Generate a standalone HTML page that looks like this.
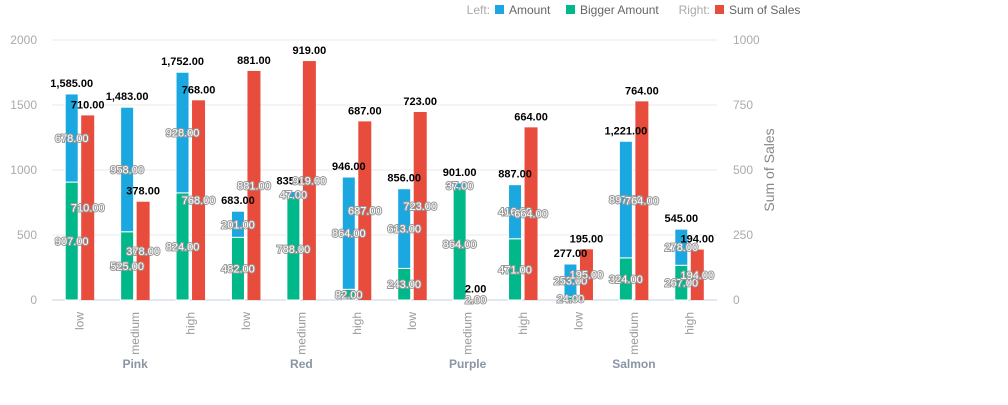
<!DOCTYPE html>
<html><head><meta charset="utf-8"><style>
body{margin:0;background:#fff;font-family:"Liberation Sans",sans-serif}
svg text{font-family:"Liberation Sans",sans-serif}
.in{fill:#fff;stroke:#999;stroke-width:2;paint-order:stroke;font-size:11px;text-anchor:middle}
.top{fill:#000;font-weight:bold;font-size:11px;text-anchor:middle}
</style></head><body>
<svg id="c" width="1008" height="400">
<g font-size="12">
<text x="490" y="14" fill="#aaa" text-anchor="end">Left:</text>
<rect x="495" y="5" width="9" height="9" fill="#1ba8e0"/>
<text x="509" y="14" fill="#666">Amount</text>
<rect x="566" y="5" width="9" height="9" fill="#00b88a"/>
<text x="580" y="14" fill="#666">Bigger Amount</text>
<text x="710" y="14" fill="#aaa" text-anchor="end">Right:</text>
<rect x="715" y="5" width="9" height="9" fill="#e84c3d"/>
<text x="729" y="14" fill="#666">Sum of Sales</text>
</g>
<text transform="translate(774,170) rotate(-90)" text-anchor="middle" fill="#888" font-size="14">Sum of Sales</text>
</svg>
<script>
const groups=["Pink","Red","Purple","Salmon"];
const levels=["low","medium","high"];
const bigger=[907,525,824,482,788,82,243,864,471,24,324,267];
const amount=[678,958,928,201,47,864,613,37,416,253,897,278];
const sales=[710,378,768,881,919,687,723,2,664,195,764,194];
const leftTicks=[0,500,1000,1500,2000];
const rightTicks=[0,250,500,750,1000];
const svg=document.getElementById('c');const NS='http://www.w3.org/2000/svg';
const X0=52,X1=717,Y0=300,Y1=40,n=12,cw=(X1-X0)/n;
const yL=v=>Y0-v/2000*(Y0-Y1), yR=v=>Y0-v/1000*(Y0-Y1);
const f=v=>v.toLocaleString('en-US',{minimumFractionDigits:2,maximumFractionDigits:2});
function el(t,a,txt){const e=document.createElementNS(NS,t);for(const k in a)e.setAttribute(k,a[k]);if(txt!=null)e.textContent=txt;svg.appendChild(e);return e;}
leftTicks.forEach((t,i)=>{
 let g=el('line',{x1:X0,x2:X1,y1:yL(t),y2:yL(t),stroke:i?'#e8e8e8':'#c5d0e0'});
 
 
 let a=el('text',{x:37,y:yL(t)+4,'text-anchor':'end',fill:'#aaa','font-size':12},t);
 
 
 let b=el('text',{x:733,y:yR(rightTicks[i])+4,fill:'#aaa','font-size':12},rightTicks[i]);
 
 
});
const inl=[];
for(let i=0;i<n;i++){
 const cx=X0+cw*(i+0.5), bw=13, bx=cx-bw-1.5, rx=cx+1.5;
 const tot=bigger[i]+amount[i];
 let g=el('rect',{x:bx,y:yL(bigger[i]),width:bw,height:Y0-yL(bigger[i]),fill:'#00b88a',stroke:'#fff','stroke-width':1});
 
 
 let b=el('rect',{x:bx,y:yL(tot),width:bw,height:yL(bigger[i])-yL(tot),fill:'#1ba8e0',stroke:'#fff','stroke-width':1});
 
 
 let r=el('rect',{x:rx,y:yR(sales[i]),width:bw,height:Y0-yR(sales[i]),fill:'#e84c3d'});
 
 
 inl.push([bx+bw/2,(yL(bigger[i])+Y0)/2+4,f(bigger[i])]);
 inl.push([bx+bw/2,(yL(tot)+yL(bigger[i]))/2+4,f(amount[i])]);
 inl.push([rx+bw/2,(yR(sales[i])+Y0)/2+4,f(sales[i])]);
 let t1=el('text',{x:bx+bw/2,y:yL(tot)-7,class:'top'},f(tot));
 
 
 let t2=el('text',{x:rx+bw/2,y:yR(sales[i])-7,class:'top'},f(sales[i]));
 
 
 let xl=el('text',{transform:`translate(${cx+4},312) rotate(-90)`,'text-anchor':'end',fill:'#999','font-size':12},levels[i%3]);
 
 
}
inl.forEach(p=>{let t=el('text',{x:p[0],y:p[1],class:'in'},p[2]);
 
 });
groups.forEach((gname,j)=>{
 let t=el('text',{x:X0+cw*(3*j+1.5),y:368,'text-anchor':'middle',fill:'#8a95a5','font-size':12,'font-weight':'bold'},gname);
 
 
});
</script>
</body></html>
